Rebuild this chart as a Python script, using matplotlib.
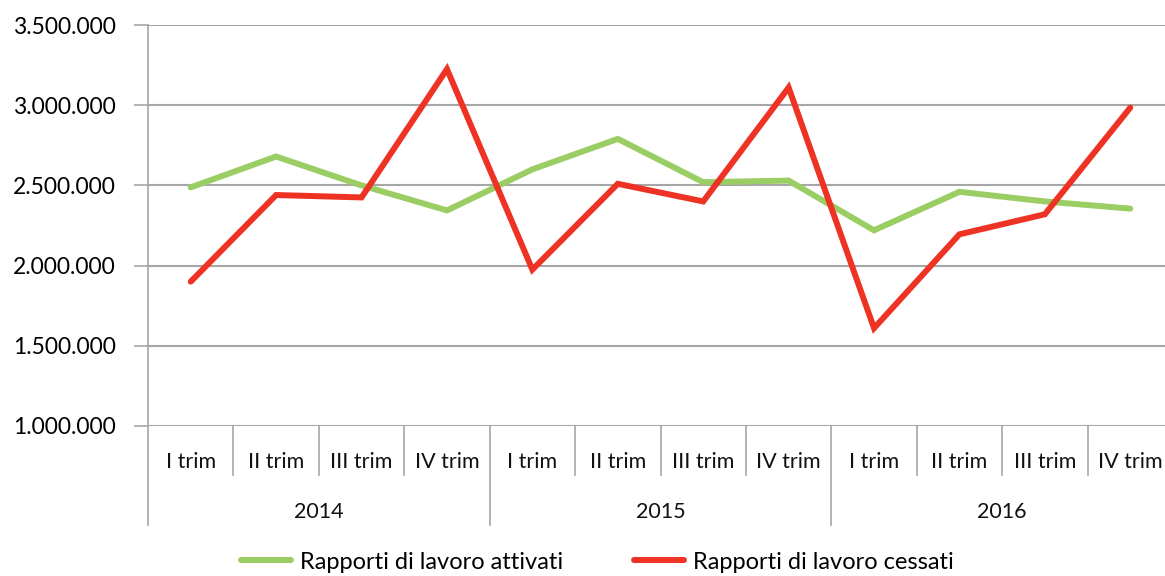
"""
Rapporti di lavoro attivati / cessati per trimestre, 2014-2016
"""
import numpy as np
import matplotlib
matplotlib.use('Agg')
import matplotlib.pyplot as plt
import matplotlib.transforms as mtransforms
from matplotlib.ticker import FuncFormatter

plt.rcParams['font.family'] = ['Lato', 'DejaVu Sans']

# data
years = ['2014', '2015', '2016']
quarters = ['I trim', 'II trim', 'III trim', 'IV trim']
attivati = [2488000, 2680000, 2500000, 2344000,
            2600000, 2790000, 2520000, 2530000,
            2220000, 2460000, 2400000, 2355000]
cessati = [1900000, 2440000, 2425000, 3225000,
           1975000, 2510000, 2400000, 3110000,
           1610000, 2195000, 2320000, 2985000]
y_ticks = [1000000, 1500000, 2000000, 2500000, 3000000, 3500000]

GREEN = '#9ACD63'
RED = '#EE3324'
GRID = '#A6A6A6'

fig = plt.figure(figsize=(11.65, 5.76), dpi=100)
ax = fig.add_axes([148 / 1165, 1 - 426 / 576, 1025 / 1165, 401 / 576])

x = np.arange(len(attivati))
ax.plot(x, attivati, color=GREEN, linewidth=4.3, solid_capstyle='round',
        solid_joinstyle='miter', label='Rapporti di lavoro attivati', zorder=3)
ax.plot(x, cessati, color=RED, linewidth=4.3, solid_capstyle='round',
        solid_joinstyle='miter', label='Rapporti di lavoro cessati', zorder=4)

ax.set_xlim(-0.5, len(x) - 0.5)
ax.set_ylim(y_ticks[0], y_ticks[-1])
ax.set_yticks(y_ticks)
ax.yaxis.set_major_formatter(FuncFormatter(lambda v, p: f'{int(v):,}'.replace(',', '.')))
ax.tick_params(axis='y', length=10, width=1.2, color=GRID, labelsize=16.5, pad=13)
ax.grid(axis='y', color=GRID, linewidth=1.5)
ax.set_axisbelow(True)
ax.set_xticks([])

for s in ['top', 'right', 'bottom']:
    ax.spines[s].set_visible(False)
ax.spines['left'].set_color(GRID)
ax.spines['left'].set_linewidth(1.2)

# category axis: quarter labels, separators, year labels
trans = mtransforms.blended_transform_factory(ax.transData, ax.transAxes)
for i in range(len(x)):
    ax.text(i, -0.09, quarters[i % 4], transform=trans, ha='center', va='center',
            fontsize=15.5, color='#111111')
for i in range(1, len(x)):
    if i % 4 == 0:
        continue
    ax.plot([i - 0.5, i - 0.5], [0, -0.122], transform=trans, color=GRID,
            linewidth=1.2, clip_on=False)
for g in range(len(years) + 1):
    ax.plot([g * 4 - 0.5, g * 4 - 0.5], [0, -0.247], transform=trans, color=GRID,
            linewidth=1.2, clip_on=False)
for g, yr in enumerate(years):
    ax.text(g * 4 + 1.5, -0.214, yr, transform=trans, ha='center', va='center',
            fontsize=15.5, color='#111111')

fig.legend(loc='center', bbox_to_anchor=(0.513, 0.024), ncol=2, frameon=False,
           fontsize=17, handlelength=2.1, columnspacing=3.0, handletextpad=0.4)

fig.savefig('out.png', dpi=100)
